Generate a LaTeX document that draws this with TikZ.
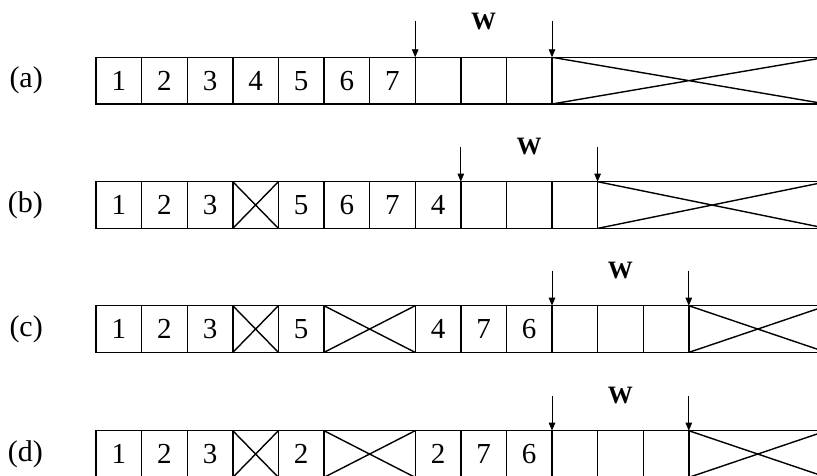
\documentclass[tikz,border=0pt]{standalone}
\usepackage{fontspec}
\setmainfont{Liberation Serif}
\usetikzlibrary{positioning,calc,arrows.meta}

\begin{document}
\begin{tikzpicture}[
    x=1pt, y=-1pt,
    node distance=0pt,
    cell/.style={rectangle, draw, line width=1.4pt, minimum width=45.6pt, minimum height=46.7pt, inner sep=0pt, outer sep=0pt, font=\fontsize{29}{30}\selectfont},
    xcell/.style={cell, path picture={\draw[line width=1.4pt] (path picture bounding box.north west) -- (path picture bounding box.south east) (path picture bounding box.south west) -- (path picture bounding box.north east);}},
    tail/.style={xcell, minimum width=#1},
    rowlabel/.style={inner sep=0pt, font=\fontsize{30}{32}\selectfont},
    wlabel/.style={inner sep=0pt, font=\fontsize{25}{27}\selectfont\bfseries},
    ptr/.style={-{Triangle[length=8pt,width=6.5pt]}, line width=0.9pt}
]
\clip (0,0) rectangle (817,476);

% Row (a)
\node[cell, anchor=north west] (a1) at (96,57.3) {1};
\node[cell, right=of a1] (a2) {2};
\node[cell, right=of a2] (a3) {3};
\node[cell, right=of a3] (a4) {4};
\node[cell, right=of a4] (a5) {5};
\node[cell, right=of a5] (a6) {6};
\node[cell, right=of a6] (a7) {7};
\node[cell, right=of a7] (a8) {};
\node[cell, right=of a8] (a9) {};
\node[cell, right=of a9] (a10) {};
\node[tail=274pt, right=of a10] (atail) {};

% Row (b)
\node[cell, anchor=north west] (b1) at (96,181.7) {1};
\node[cell, right=of b1] (b2) {2};
\node[cell, right=of b2] (b3) {3};
\node[xcell, right=of b3] (b4) {};
\node[cell, right=of b4] (b5) {5};
\node[cell, right=of b5] (b6) {6};
\node[cell, right=of b6] (b7) {7};
\node[cell, right=of b7] (b8) {4};
\node[cell, right=of b8] (b9) {};
\node[cell, right=of b9] (b10) {};
\node[cell, right=of b10] (b11) {};
\node[tail=229pt, right=of b11] (btail) {};

% Row (c)
\node[cell, anchor=north west] (c1) at (96,305.7) {1};
\node[cell, right=of c1] (c2) {2};
\node[cell, right=of c2] (c3) {3};
\node[xcell, right=of c3] (c4) {};
\node[cell, right=of c4] (c5) {5};
\node[xcell, minimum width=91.2pt, right=of c5] (c6) {};
\node[cell, right=of c6] (c7) {4};
\node[cell, right=of c7] (c8) {7};
\node[cell, right=of c8] (c9) {6};
\node[cell, right=of c9] (c10) {};
\node[cell, right=of c10] (c11) {};
\node[cell, right=of c11] (c12) {};
\node[tail=138pt, right=of c12] (ctail) {};

% Row (d)
\node[cell, anchor=north west] (d1) at (96,430.7) {1};
\node[cell, right=of d1] (d2) {2};
\node[cell, right=of d2] (d3) {3};
\node[xcell, right=of d3] (d4) {};
\node[cell, right=of d4] (d5) {2};
\node[xcell, minimum width=91.2pt, right=of d5] (d6) {};
\node[cell, right=of d6] (d7) {2};
\node[cell, right=of d7] (d8) {7};
\node[cell, right=of d8] (d9) {6};
\node[cell, right=of d9] (d10) {};
\node[cell, right=of d10] (d11) {};
\node[cell, right=of d11] (d12) {};
\node[tail=138pt, right=of d12] (dtail) {};

% Row labels
\node[rowlabel, left=53pt of a1] (la) {(a)};
\node[rowlabel, left=53pt of b1] (lb) {(b)};
\node[rowlabel, left=53pt of c1] (lc) {(c)};
\node[rowlabel, left=53pt of d1] (ld) {(d)};

% Window pointers
\coordinate[above=36pt of a8.north west] (pa1);
\coordinate[above=36pt of a10.north east] (pa2);
\coordinate[above=35pt of b9.north west] (pb1);
\coordinate[above=35pt of b11.north east] (pb2);
\coordinate[above=35pt of c10.north west] (pc1);
\coordinate[above=35pt of c12.north east] (pc2);
\coordinate[above=35pt of d10.north west] (pd1);
\coordinate[above=35pt of d12.north east] (pd2);

\draw[ptr] (pa1) -- (a8.north west);
\draw[ptr] (pa2) -- (a10.north east);
\draw[ptr] (pb1) -- (b9.north west);
\draw[ptr] (pb2) -- (b11.north east);
\draw[ptr] (pc1) -- (c10.north west);
\draw[ptr] (pc2) -- (c12.north east);
\draw[ptr] (pd1) -- (d10.north west);
\draw[ptr] (pd2) -- (d12.north east);

\node[wlabel] (wa) at ($(pa1)!0.5!(pa2)$) {W};
\node[wlabel] (wb) at ($(pb1)!0.5!(pb2)$) {W};
\node[wlabel] (wc) at ($(pc1)!0.5!(pc2)$) {W};
\node[wlabel] (wd) at ($(pd1)!0.5!(pd2)$) {W};

\end{tikzpicture}
\end{document}
